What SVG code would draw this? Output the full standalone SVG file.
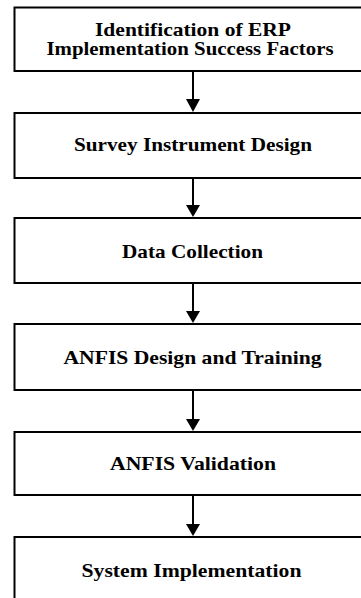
<svg xmlns="http://www.w3.org/2000/svg" width="361" height="598" viewBox="0 0 361 598">
<style>
.box{fill:#fff;stroke:#000;stroke-width:2}
.lbl{font-family:"Liberation Serif","Times New Roman",serif;font-weight:bold;font-size:19.5px;fill:#000;text-anchor:middle}
.con{stroke:#000;stroke-width:2;fill:none}
.head{fill:#000;stroke:none}
</style>
<rect width="361" height="598" fill="#fff"/>
<g id="connectors">
<line class="con" x1="193" y1="71" x2="193" y2="100"/>
<polygon class="head" points="186,99 200,99 193,112"/>
<line class="con" x1="193" y1="178" x2="193" y2="206"/>
<polygon class="head" points="186,205 200,205 193,217"/>
<line class="con" x1="193" y1="283" x2="193" y2="312"/>
<polygon class="head" points="186,311 200,311 193,323"/>
<line class="con" x1="193" y1="390" x2="193" y2="420"/>
<polygon class="head" points="186,419 200,419 193,431"/>
<line class="con" x1="193" y1="495" x2="193" y2="525"/>
<polygon class="head" points="186,524 200,524 193,536"/>
</g>
<g id="n1">
<rect class="box" x="14.5" y="7.5" width="358" height="63.5"/>
<text class="lbl" x="193" y="35.5" textLength="196" lengthAdjust="spacingAndGlyphs">Identification of ERP</text>
<text class="lbl" x="190" y="55" textLength="287" lengthAdjust="spacingAndGlyphs">Implementation Success Factors</text>
</g>
<g id="n2">
<rect class="box" x="14.5" y="113" width="358" height="65"/>
<text class="lbl" x="193" y="151" textLength="238" lengthAdjust="spacingAndGlyphs">Survey Instrument Design</text>
</g>
<g id="n3">
<rect class="box" x="14.5" y="218" width="358" height="65"/>
<text class="lbl" x="192.5" y="257.5" textLength="141" lengthAdjust="spacingAndGlyphs">Data Collection</text>
</g>
<g id="n4">
<rect class="box" x="14.5" y="324" width="358" height="66"/>
<text class="lbl" x="192.5" y="363.5" textLength="258" lengthAdjust="spacingAndGlyphs">ANFIS Design and Training</text>
</g>
<g id="n5">
<rect class="box" x="14.5" y="432" width="358" height="63"/>
<text class="lbl" x="193" y="470" textLength="166" lengthAdjust="spacingAndGlyphs">ANFIS Validation</text>
</g>
<g id="n6">
<rect class="box" x="14.5" y="537" width="358" height="70"/>
<text class="lbl" x="191.5" y="576.5" textLength="220" lengthAdjust="spacingAndGlyphs">System Implementation</text>
</g>
</svg>
